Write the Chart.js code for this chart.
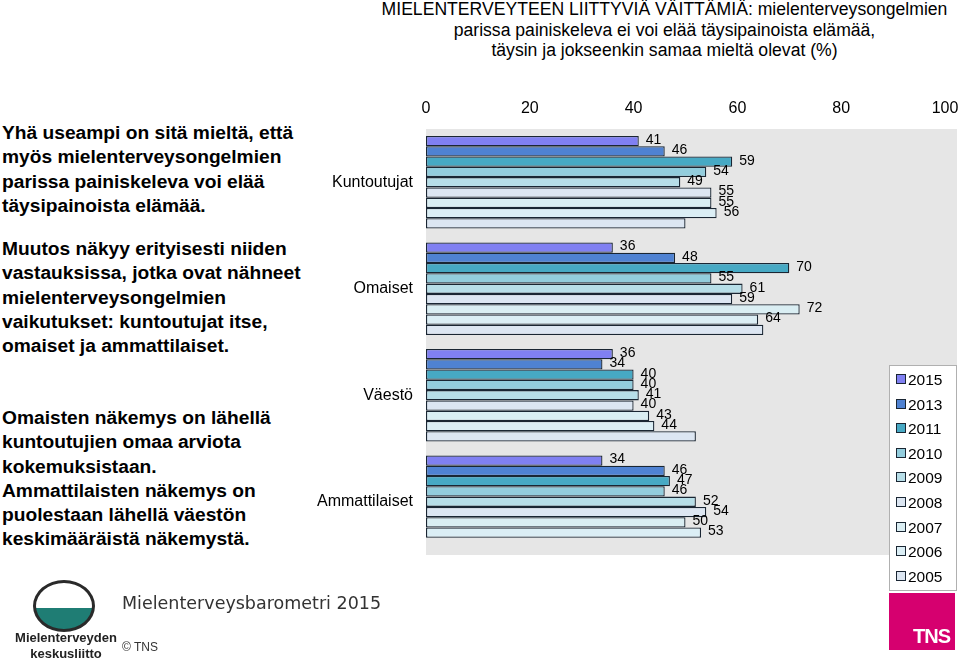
<!DOCTYPE html>
<html>
<head>
<meta charset="utf-8">
<script src="https://cdn.jsdelivr.net/npm/chart.js@4"></script>
<style>
  body { margin: 0; width: 959px; height: 663px; position: relative; background: #fff; font-family: Arial, "Liberation Sans", sans-serif; overflow: hidden; }
  #chart { position: absolute; left: 0; top: 0; }
  .title { position: absolute; left: 360px; width: 609px; top: -1px; text-align: center; font-size: 17.6px; line-height: 20.5px; color: #000; }
  .side { position: absolute; left: 2px; width: 320px; font-weight: bold; font-size: 19.2px; line-height: 24.3px; color: #000; white-space: nowrap; }
  .legend { position: absolute; left: 889px; top: 365px; width: 66px; height: 224px; border: 1px solid #b0b0b0; background: #fff; }
  .legend div { position: absolute; left: 6px; font-size: 15.5px; line-height: 17px; }
  .legend span { display: inline-block; width: 8px; height: 8px; border: 1px solid #1a2633; margin-right: 2px; vertical-align: 1px; }
  .tns { position: absolute; left: 889px; top: 593px; width: 66px; height: 57px; background: #d6006f; color: #fff; font-weight: bold; font-size: 20px; }
  .tns b { position: absolute; right: 5px; bottom: 2px; letter-spacing: -1px; }
  .logo { position: absolute; left: 33px; top: 580px; width: 62px; height: 52px; border: 3px solid #2a2a2a; border-radius: 50%; background: linear-gradient(#fff 55%, #1f7d74 55%); box-sizing: border-box; }
  .org { position: absolute; left: 10px; width: 112px; text-align: center; font-weight: bold; font-size: 13px; color: #222; }
  .baro { position: absolute; left: 122px; top: 593px; font-family: "DejaVu Sans", Verdana, sans-serif; font-size: 17.5px; color: #333; }
  .copy { position: absolute; left: 122px; top: 640px; font-size: 12px; color: #333; }
</style>
</head>
<body>
<div class="title">MIELENTERVEYTEEN LIITTYVIÄ VÄITTÄMIÄ: mielenterveysongelmien<br>parissa painiskeleva ei voi elää täysipainoista elämää,<br>täysin ja jokseenkin samaa mieltä olevat (%)</div>

<div class="side" style="top:121px">Yhä useampi on sitä mieltä, että<br>myös mielenterveysongelmien<br>parissa painiskeleva voi elää<br>täysipainoista elämää.</div>
<div class="side" style="top:237px">Muutos näkyy erityisesti niiden<br>vastauksissa, jotka ovat nähneet<br>mielenterveysongelmien<br>vaikutukset: kuntoutujat itse,<br>omaiset ja ammattilaiset.</div>
<div class="side" style="top:406px">Omaisten näkemys on lähellä<br>kuntoutujien omaa arviota<br>kokemuksistaan.<br>Ammattilaisten näkemys on<br>puolestaan lähellä väestön<br>keskimääräistä näkemystä.</div>

<canvas id="chart" width="959" height="663"></canvas>

<div class="legend" id="legend"></div>
<div class="tns"><b>TNS</b></div>

<div class="logo"></div>
<div class="org" style="top:630px">Mielenterveyden</div>
<div class="org" style="top:646px">keskusliitto</div>
<div class="baro">Mielenterveysbarometri 2015</div>
<div class="copy">© TNS</div>

<script>
var groups = ["Kuntoutujat", "Omaiset", "Väestö", "Ammattilaiset"];
var years = ["2015", "2013", "2011", "2010", "2009", "2008", "2007", "2006", "2005"];
var v2015 = [41, 36, 36, 34];
var v2013 = [46, 48, 34, 46];
var v2011 = [59, 70, 40, 47];
var v2010 = [54, 55, 40, 46];
var v2009 = [49, 61, 41, 52];
var v2008 = [55, 59, 40, 54];
var v2007 = [55, 72, 43, 50];
var v2006 = [56, 64, 44, 53];
var v2005 = [50, 65, 52, null];
var xTicks = [0, 20, 40, 60, 80, 100];

var colors = ["#8080f2", "#4f82d2", "#47a9c4", "#93cddd", "#b7dee8", "#dce6f2", "#daeef3", "#dbeef5", "#dce6f2"];
var series = [v2015, v2013, v2011, v2010, v2009, v2008, v2007, v2006, v2005];

var datasets = years.map(function (y, i) {
  return {
    label: y,
    data: series[i],
    backgroundColor: colors[i],
    borderColor: "#1a2633",
    borderWidth: 1.3,
    borderSkipped: false,
    barPercentage: 1.0,
    categoryPercentage: 0.87
  };
});

// legend
var lg = document.getElementById("legend");
years.forEach(function (y, i) {
  var d = document.createElement("div");
  d.style.top = (5 + i * 24.6) + "px";
  d.innerHTML = '<span style="background:' + colors[i] + '"></span>' + y;
  lg.appendChild(d);
});

var bgPlugin = {
  id: "bg",
  beforeDraw: function (chart) {
    var a = chart.chartArea, c = chart.ctx;
    c.save();
    c.fillStyle = "#e6e6e6";
    c.fillRect(a.left, a.top, 957 - a.left, a.bottom - a.top);
    c.restore();
  }
};

var labelPlugin = {
  id: "vals",
  afterDatasetsDraw: function (chart) {
    var c = chart.ctx;
    c.save();
    c.font = "14px Arial, 'Liberation Sans', sans-serif";
    c.fillStyle = "#000";
    c.textBaseline = "middle";
    chart.data.datasets.forEach(function (ds, i) {
      if (ds.label === "2005") return;
      chart.getDatasetMeta(i).data.forEach(function (bar, j) {
        if (ds.data[j] == null) return;
        c.fillText(ds.data[j], bar.x + 7, bar.y - 1);
      });
    });
    c.restore();
  }
};

new Chart(document.getElementById("chart"), {
  type: "bar",
  data: { labels: groups, datasets: datasets },
  plugins: [bgPlugin, labelPlugin],
  options: {
    responsive: false,
    animation: false,
    indexAxis: "y",
    layout: { padding: { left: 316, top: 99, right: 14, bottom: 108 } },
    plugins: { legend: { display: false }, tooltip: { enabled: false } },
    scales: {
      x: {
        position: "top",
        min: 0, max: 100,
        afterBuildTicks: function (s) { s.ticks = xTicks.map(function (v) { return { value: v }; }); },
        afterFit: function (s) { s.height = 30; s.paddingRight = 0; s.paddingLeft = 0; },
        grid: { display: false, drawTicks: false },
        border: { display: false },
        ticks: { color: "#000", font: { family: "Arial", size: 16 }, padding: 11 }
      },
      y: {
        afterFit: function (s) { s.width = 110; },
        grid: { display: false, drawTicks: false },
        border: { display: false },
        ticks: { color: "#000", font: { family: "Arial", size: 16 }, padding: 13 }
      }
    }
  }
});
</script>
</body>
</html>
